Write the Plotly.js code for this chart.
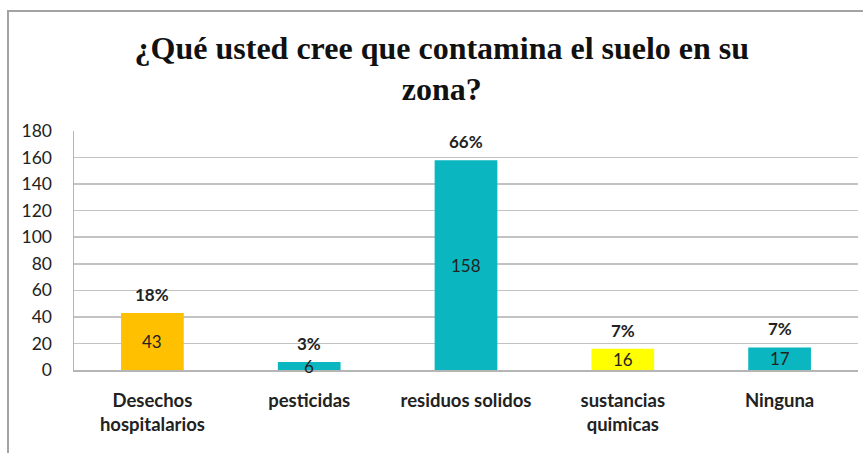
<!DOCTYPE html>
<html>
<head>
<meta charset="utf-8">
<script src="https://cdn.plot.ly/plotly-3.0.1.min.js"></script>
<style>
  html, body { margin: 0; padding: 0; background: #fff; }
  #wrap { position: relative; width: 863px; height: 453px; overflow: hidden; }
  #chart { width: 863px; height: 453px; }
  #frame { position: absolute; left: 7px; top: 10px; width: 900px; height: 500px;
           border-top: 2px solid #a3a3a3; border-left: 2px solid #a3a3a3; pointer-events: none; }
</style>
</head>
<body>
<div id="wrap">
  <div id="chart"></div>
  <div id="frame"></div>
</div>
<script>
const categories = ["Desechos<br>hospitalarios", "pesticidas", "residuos solidos", "sustancias<br>quimicas", "Ninguna"];
const values = [43, 6, 158, 16, 17];
const percentLabels = ["18%", "3%", "66%", "7%", "7%"];
const barColors = ["#ffc000", "#0ab6bf", "#0ab6bf", "#ffff00", "#0ab6bf"];
const yTicks = [0, 20, 40, 60, 80, 100, 120, 140, 160, 180];

const font = "Lato, 'Open Sans', sans-serif";

const trace = {
  type: "bar",
  x: categories,
  y: values,
  width: 0.4,
  marker: { color: barColors, line: { width: 0 } },
  hoverinfo: "x+y"
};

const annotations = [];
categories.forEach((c, i) => {
  annotations.push({
    x: c, y: values[i] / 2, xref: "x", yref: "y",
    text: String(values[i]), showarrow: false,
    font: { family: font, size: 17, color: "#222" }
  });
  annotations.push({
    x: c, y: values[i], xref: "x", yref: "y",
    text: "<b>" + percentLabels[i] + "</b>", showarrow: false,
    yanchor: "bottom", yshift: 6,
    font: { family: font, size: 17, color: "#222" }
  });
});

const layout = {
  width: 863, height: 453,
  margin: { l: 74, r: 5, t: 131, b: 83 },
  paper_bgcolor: "#fff", plot_bgcolor: "#fff",
  title: {
    text: "<b>¿Qué usted cree que contamina el suelo en su<br>zona?</b>",
    font: { family: "'Liberation Serif', 'Times New Roman', serif", size: 32, color: "#111" },
    x: 0.512, xanchor: "center", yref: "container", y: 0.87, yanchor: "top"
  },
  showlegend: false,
  bargap: 0.6,
  xaxis: {
    type: "category",
    tickmode: "array", tickvals: categories,
    ticktext: categories.map(c => "<b>" + c + "</b>"),
    tickfont: { family: font, size: 18.5, color: "#222" },
    ticks: "outside", ticklen: 0, ticklabelstandoff: 13,
    showline: true, linecolor: "#b5b5b5", linewidth: 1.5,
    showgrid: false, zeroline: false, fixedrange: true
  },
  yaxis: {
    range: [0, 180],
    tickmode: "array", tickvals: yTicks,
    tickfont: { family: font, size: 17.5, color: "#222" },
    ticks: "outside", ticklen: 0, ticklabelstandoff: 17,
    showline: true, linecolor: "#b5b5b5", linewidth: 1.5,
    showgrid: true, gridcolor: "#c3c3c3", gridwidth: 1.5,
    zeroline: false, fixedrange: true
  },
  annotations: annotations
};

Plotly.newPlot("chart", [trace], layout, { displayModeBar: false, staticPlot: true });
</script>
</body>
</html>
